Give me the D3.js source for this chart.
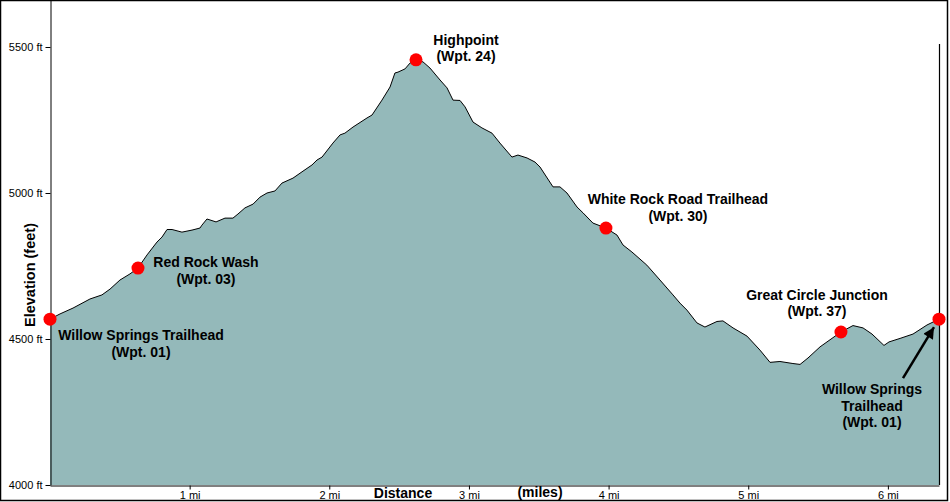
<!DOCTYPE html>
<html>
<head>
<meta charset="utf-8">
<script src="https://cdn.jsdelivr.net/npm/d3@7"></script>
<style>
  html, body { margin: 0; padding: 0; background: #fff; }
  svg { display: block; font-family: "Liberation Sans", Arial, sans-serif; }
</style>
</head>
<body>
<svg id="chart" width="950" height="502"></svg>
<script>
// Distance along trail (miles)
const distance = [0.000,0.072,0.165,0.286,0.372,0.430,0.501,0.573,0.630,0.695,0.766,0.802,0.838,0.874,0.945,1.017,1.074,1.088,1.124,1.189,1.253,1.310,1.346,1.396,1.454,1.504,1.554,1.611,1.661,1.740,1.812,1.876,1.912,1.948,2.026,2.077,2.112,2.170,2.270,2.306,2.377,2.435,2.470,2.492,2.542,2.578,2.621,2.671,2.721,2.793,2.843,2.886,2.936,2.972,3.029,3.093,3.165,3.222,3.308,3.351,3.416,3.473,3.509,3.602,3.652,3.702,3.774,3.817,3.888,3.981,4.060,4.103,4.167,4.274,4.368,4.461,4.511,4.561,4.633,4.690,4.776,4.819,4.891,4.991,5.084,5.156,5.227,5.320,5.371,5.428,5.514,5.664,5.750,5.822,5.886,5.972,6.008,6.087,6.180,6.280,6.366];
// Elevation (feet)
const elevation = [4568,4586,4606,4637,4651,4671,4702,4723,4743,4788,4832,4849,4875,4875,4866,4873,4880,4890,4911,4901,4914,4914,4928,4949,4962,4986,5000,5007,5034,5051,5075,5096,5113,5123,5171,5199,5205,5226,5257,5267,5318,5363,5411,5414,5425,5445,5456,5449,5428,5387,5360,5318,5317,5295,5243,5223,5205,5171,5123,5130,5120,5106,5089,5021,5021,5000,4952,4932,4897,4880,4856,4822,4798,4753,4702,4651,4623,4599,4555,4541,4560,4562,4538,4510,4462,4420,4423,4416,4413,4435,4473,4524,4546,4538,4517,4478,4490,4502,4517,4548,4568];

// Waypoints
const wptNames = [["Willow Springs Trailhead","(Wpt. 01)"],["Red Rock Wash","(Wpt. 03)"],["Highpoint","(Wpt. 24)"],["White Rock Road Trailhead","(Wpt. 30)"],["Great Circle Junction","(Wpt. 37)"],["Willow Springs","Trailhead","(Wpt. 01)"]];
const wptDist = [0.000,0.630,2.621,3.981,5.664,6.366];
const wptElev = [4568,4743,5456,4880,4524,4568];

const xTicks = [1,2,3,4,5,6];
const yTicks = [4000,4500,5000,5500];
const xDomain = [0, 6.366];
const yDomain = [4000, 5661];

// label offsets (px) relative to each waypoint marker
const labelStyle = [
  {dx: 91, dy: 21},
  {dx: 68, dy: -1},
  {dx: 50, dy: -15},
  {dx: 72, dy: -24},
  {dx: -24, dy: -32},
  {dx: -67, dy: 75}
];

(function () {
const svg = d3.select("#chart");
const W = 950, H = 502;
const mLeft = 50, mRight = 939, mTop = 0, mBottom = 485;

const x = d3.scaleLinear().domain(xDomain).range([mLeft, mRight]);
const y = d3.scaleLinear().domain(yDomain).range([mBottom, mTop]);

const pts = distance.map((d, i) => [d, elevation[i]]);

// area
svg.append("path")
  .datum(pts)
  .attr("fill", "#94b9ba")
  .attr("d", d3.area().x(d => x(d[0])).y0(y(4000)).y1(d => y(d[1])));

svg.append("path")
  .datum(pts)
  .attr("fill", "none")
  .attr("stroke", "#000")
  .attr("stroke-width", 1)
  .attr("stroke-linejoin", "miter")
  .attr("d", d3.line().x(d => x(d[0])).y(d => y(d[1])));

// right edge line
svg.append("line")
  .attr("x1", x(xDomain[1]) + 0.5).attr("x2", x(xDomain[1]) + 0.5)
  .attr("y1", y(5510)).attr("y2", y(4000))
  .attr("stroke", "#000").attr("stroke-width", 1.2);

// axes
const yAxis = d3.axisLeft(y).tickValues(yTicks).tickFormat(d => d + " ft").tickSize(5).tickSizeOuter(0).tickPadding(3);
const gy = svg.append("g").attr("transform", `translate(${mLeft + 0.5},0)`).call(yAxis);
gy.selectAll("text").attr("font-size", 11).attr("font-family", "Liberation Sans, Arial, sans-serif").attr("fill", "#000");
gy.selectAll("line, path").attr("stroke", "#000");

const xAxis = d3.axisBottom(x).tickValues(xTicks).tickFormat(d => d + " mi").tickSize(4).tickSizeOuter(0).tickPadding(2);
const gx = svg.append("g").attr("transform", `translate(0,${mBottom + 0.5})`).call(xAxis);
gx.selectAll("text").attr("font-size", 11).attr("font-family", "Liberation Sans, Arial, sans-serif").attr("fill", "#000");
gx.selectAll("line, path").attr("stroke", "#000");

// axis titles
svg.append("text")
  .attr("transform", `translate(35,275) rotate(-90)`)
  .attr("text-anchor", "middle")
  .attr("font-weight", "bold").attr("font-size", 14.5)
  .text("Elevation (feet)");
svg.append("text").attr("x", 403).attr("y", 498).attr("text-anchor", "middle")
  .attr("font-weight", "bold").attr("font-size", 14).text("Distance");
svg.append("text").attr("x", 540).attr("y", 497).attr("text-anchor", "middle")
  .attr("font-weight", "bold").attr("font-size", 14).text("(miles)");

// arrow
const defs = svg.append("defs");
defs.append("marker").attr("id", "ah")
  .attr("viewBox", "0 0 10 10").attr("refX", 10).attr("refY", 5)
  .attr("markerWidth", 5).attr("markerHeight", 4.5).attr("orient", "auto")
  .attr("markerUnits", "strokeWidth")
  .append("path").attr("d", "M0,0 L10,5 L0,10 Z").attr("fill", "#000");
const ex = x(wptDist[5]), ey = y(wptElev[5]);
svg.append("line")
  .attr("x1", ex - 36).attr("y1", ey + 59)
  .attr("x2", ex - 5).attr("y2", ey + 8)
  .attr("stroke", "#000").attr("stroke-width", 2.5)
  .attr("marker-end", "url(#ah)");

// waypoint markers
svg.selectAll("circle.wpt").data(wptDist).enter().append("circle")
  .attr("class", "wpt")
  .attr("cx", (d, i) => x(d)).attr("cy", (d, i) => y(wptElev[i]))
  .attr("r", 6.5).attr("fill", "#ff0000");

// labels
wptNames.forEach((lines, i) => {
  const cx = x(wptDist[i]) + labelStyle[i].dx;
  const cy = y(wptElev[i]) + labelStyle[i].dy;
  const t = svg.append("text").attr("text-anchor", "middle")
    .attr("font-weight", "bold").attr("font-size", 14).attr("fill", "#000");
  lines.forEach((s, j) => {
    t.append("tspan").attr("x", cx).attr("y", cy + j * 16.5).text(s);
  });
});

// outer border
svg.append("rect").attr("x", 0.5).attr("y", 0.5).attr("width", W - 3).attr("height", H - 2)
  .attr("fill", "none").attr("stroke", "#000").attr("stroke-width", 1.5);
})();
</script>
</body>
</html>
